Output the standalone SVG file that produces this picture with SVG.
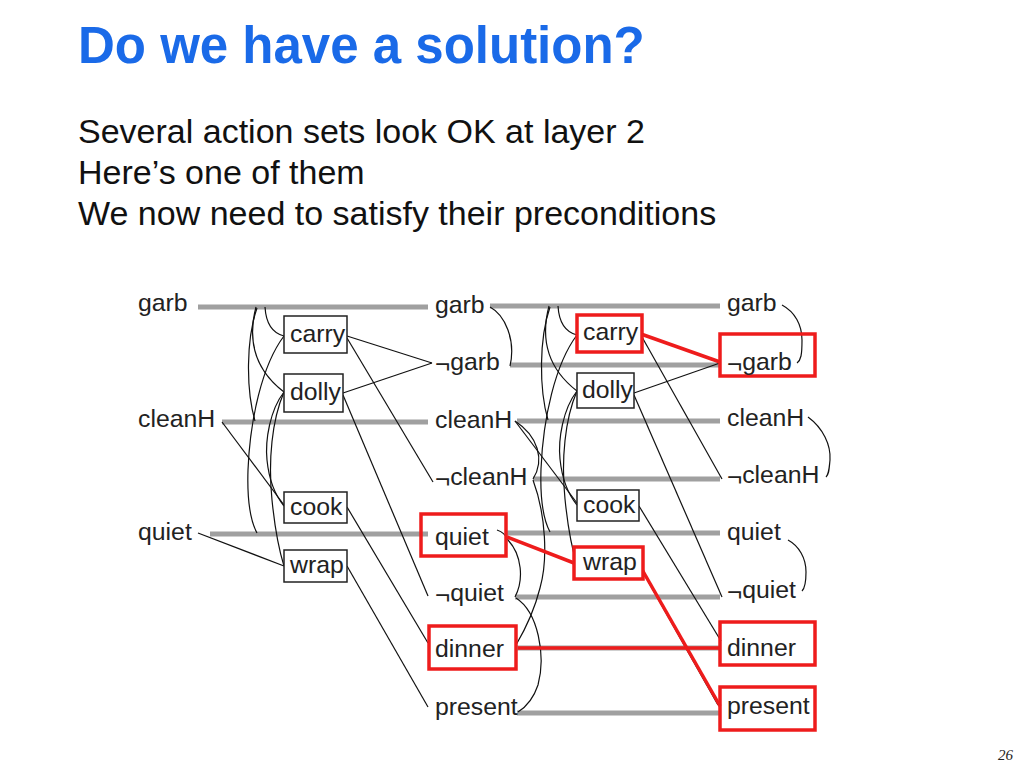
<svg xmlns="http://www.w3.org/2000/svg" xmlns:xlink="http://www.w3.org/1999/xlink" width="1024" height="768" viewBox="0 0 1024 768">
<style>
  .title{font-family:"Liberation Sans",Arial,sans-serif;font-weight:bold;font-size:51px;fill:#1a6ae8}
  .body{font-family:"Liberation Sans",Arial,sans-serif;font-size:34px;fill:#111}
  .lbl{font-family:"Liberation Sans",Arial,sans-serif;font-size:24.8px;fill:#222}
  .neg{font-size:26px}
  .pg{font-family:"Liberation Serif","Times New Roman",serif;font-style:italic;font-size:15px;fill:#222}
  .bar{stroke:#a0a0a0;stroke-width:5;fill:none}
  .ln{stroke:#111;stroke-width:1.2;fill:none}
  .red{stroke:#ee1c1c;stroke-width:3.5;fill:none}
  .abox{fill:#fff;stroke:#222;stroke-width:1.5}
  .rbox{fill:none;stroke:#ee1c1c;stroke-width:3.5}
</style>
<defs>
  <g id="precurves">
    <path class="ln" d="M265,307 C266,324 272,333 284,336"/>
    <path class="ln" d="M256,307 C246,345 258,372 284,392"/>
    <path class="ln" d="M257,308 C246,340 246,390 255,421"/>
    <path class="ln" d="M284,336 C262,365 250,420 248,470 C247,500 250,520 257,533"/>
    <path class="ln" d="M284,392 C270,410 265,440 267,460 C269,480 275,495 284,506"/>
    <path class="ln" d="M284,392 C272,420 268,460 272,500 C275,530 279,550 284,566"/>
  </g>
</defs>

<text class="title" x="78" y="63">Do we have a solution?</text>
<text class="body" x="78" y="143">Several action sets look OK at layer 2</text>
<text class="body" x="78" y="184">Here’s one of them</text>
<text class="body" x="78" y="225">We now need to satisfy their preconditions</text>

<g id="connectors">
  <line class="bar" x1="198" y1="307" x2="428" y2="307"/>
  <line class="bar" x1="222" y1="422" x2="428" y2="422"/>
  <line class="bar" x1="210" y1="534" x2="428" y2="534"/>
  <line class="bar" x1="490" y1="306" x2="720" y2="306"/>
  <line class="bar" x1="510" y1="365" x2="720" y2="365"/>
  <line class="bar" x1="517" y1="421" x2="720" y2="421"/>
  <line class="bar" x1="533" y1="479" x2="720" y2="479"/>
  <line class="bar" x1="505" y1="533" x2="720" y2="533"/>
  <line class="bar" x1="515" y1="597" x2="720" y2="597"/>
  <line class="bar" x1="516" y1="648" x2="720" y2="648"/>
  <line class="bar" x1="517" y1="713" x2="720" y2="713"/>

  <use xlink:href="#precurves"/>
  <use xlink:href="#precurves" transform="translate(293,-1)"/>
  <line class="ln" x1="222" y1="422" x2="284" y2="505"/>
  <line class="ln" x1="198" y1="533" x2="284" y2="566"/>
  <line class="ln" x1="515" y1="421" x2="577" y2="503"/>

  <line class="ln" x1="347" y1="336" x2="432" y2="363"/>
  <line class="ln" x1="343" y1="393" x2="432" y2="363"/>
  <line class="ln" x1="347" y1="338" x2="433" y2="482"/>
  <line class="ln" x1="343" y1="395" x2="428" y2="596"/>
  <line class="ln" x1="347" y1="507" x2="428" y2="643"/>
  <line class="ln" x1="347" y1="566" x2="428" y2="707"/>

  <line class="ln" x1="634" y1="393" x2="720" y2="363"/>
  <line class="ln" x1="642" y1="337" x2="722" y2="479"/>
  <line class="ln" x1="634" y1="395" x2="722" y2="597"/>
  <line class="ln" x1="639" y1="506" x2="721" y2="641"/>
  <line class="ln" x1="640" y1="567" x2="718" y2="705"/>

  <path class="ln" d="M490,307 C505,315 516,340 510,366"/>
  <path class="ln" d="M515,421 C538,436 545,460 533,479"/>
  <path class="ln" d="M497,530 C503,532 506,535 508,540 C522,555 524,580 515,597"/>
  <path class="ln" d="M533,480 C546,515 548,560 540,588 C535,608 526,628 516,645"/>
  <path class="ln" d="M516,598 C538,612 546,655 538,685 C533,700 526,707 518,712"/>

  <path class="ln" d="M782,305 C795,312 802,325 802,340 C802,355 801,360 797,363"/>
  <path class="ln" d="M808,417 C823,428 831,445 830,460 C829,470 829,474 826,477"/>
  <path class="ln" d="M788,540 C799,546 806,558 806,572 C806,583 805,588 802,591"/>

  <line class="red" x1="641" y1="334" x2="720" y2="362"/>
  <line class="red" x1="507" y1="537" x2="574" y2="563"/>
  <line class="red" x1="518" y1="648" x2="720" y2="648"/>
  <line class="red" x1="640" y1="566" x2="720" y2="706"/>
</g>

<g id="p0-garb"><text class="lbl" x="138" y="311">garb</text></g>
<g id="p0-cleanH"><text class="lbl" x="138" y="427">cleanH</text></g>
<g id="p0-quiet"><text class="lbl" x="138" y="540">quiet</text></g>

<g id="a1-carry"><rect class="abox" x="284" y="316" width="63" height="37"/><text class="lbl" x="290" y="342">carry</text></g>
<g id="a1-dolly"><rect class="abox" x="284" y="374" width="59" height="38"/><text class="lbl" x="290" y="400">dolly</text></g>
<g id="a1-cook"><rect class="abox" x="284" y="492" width="63" height="31"/><text class="lbl" x="290" y="515">cook</text></g>
<g id="a1-wrap"><rect class="abox" x="284" y="550" width="63" height="32"/><text class="lbl" x="290" y="573">wrap</text></g>

<g id="p1-garb"><text class="lbl" x="435" y="313">garb</text></g>
<g id="p1-ngarb"><text class="lbl" x="435" y="370"><tspan class="neg" dy="3">¬</tspan><tspan dy="-3">garb</tspan></text></g>
<g id="p1-cleanH"><text class="lbl" x="435" y="428">cleanH</text></g>
<g id="p1-ncleanH"><text class="lbl" x="435" y="485"><tspan class="neg" dy="3">¬</tspan><tspan dy="-3">cleanH</tspan></text></g>
<g id="p1-quiet"><rect class="rbox" x="421" y="514" width="85" height="42"/><text class="lbl" x="435" y="545">quiet</text></g>
<g id="p1-nquiet"><text class="lbl" x="435" y="601"><tspan class="neg" dy="3">¬</tspan><tspan dy="-3">quiet</tspan></text></g>
<g id="p1-dinner"><rect class="rbox" x="429" y="626" width="87" height="43"/><text class="lbl" x="435" y="657">dinner</text></g>
<g id="p1-present"><text class="lbl" x="435" y="715">present</text></g>

<g id="a2-carry"><rect class="abox" x="577" y="315" width="65" height="37" style="stroke:#ee1c1c;stroke-width:3.5"/><text class="lbl" x="583" y="340">carry</text></g>
<g id="a2-dolly"><rect class="abox" x="577" y="373" width="57" height="35"/><text class="lbl" x="582" y="398">dolly</text></g>
<g id="a2-cook"><rect class="abox" x="577" y="490" width="62" height="31"/><text class="lbl" x="583" y="513">cook</text></g>
<g id="a2-wrap"><rect class="abox" x="574" y="547" width="69" height="32" style="stroke:#ee1c1c;stroke-width:3.5"/><text class="lbl" x="583" y="570">wrap</text></g>

<g id="p2-garb"><text class="lbl" x="727" y="311">garb</text></g>
<g id="p2-ngarb"><rect class="rbox" x="720" y="334" width="95" height="42"/><text class="lbl" x="727" y="370"><tspan class="neg" dy="3">¬</tspan><tspan dy="-3">garb</tspan></text></g>
<g id="p2-cleanH"><text class="lbl" x="727" y="426">cleanH</text></g>
<g id="p2-ncleanH"><text class="lbl" x="727" y="483"><tspan class="neg" dy="3">¬</tspan><tspan dy="-3">cleanH</tspan></text></g>
<g id="p2-quiet"><text class="lbl" x="727" y="540">quiet</text></g>
<g id="p2-nquiet"><text class="lbl" x="727" y="598"><tspan class="neg" dy="3">¬</tspan><tspan dy="-3">quiet</tspan></text></g>
<g id="p2-dinner"><rect class="rbox" x="720" y="622" width="95" height="43"/><text class="lbl" x="727" y="656">dinner</text></g>
<g id="p2-present"><rect class="rbox" x="720" y="687" width="95" height="43"/><text class="lbl" x="727" y="714">present</text></g>

<text class="pg" x="998" y="760">26</text>
</svg>
